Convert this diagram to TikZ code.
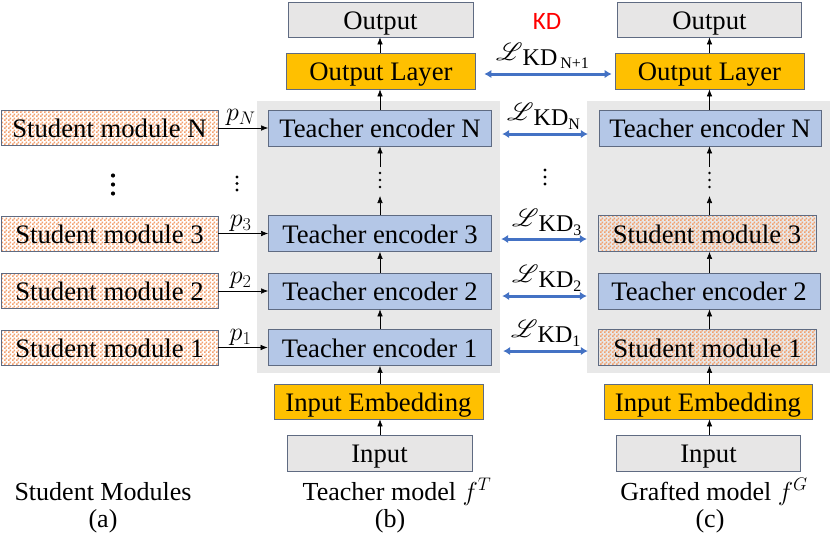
\RequirePackage{fix-cm}
\documentclass[tikz,border=0pt]{standalone}
\usepackage{fontspec}
\setmainfont{Liberation Serif}
\newfontfamily\kdfont{Carlito}
\usepackage{mathrsfs}
\usetikzlibrary{arrows.meta,patterns,calc}
\pgfdeclarepatternformonly{finechecker}{\pgfqpoint{0pt}{0pt}}{\pgfqpoint{4pt}{4pt}}{\pgfqpoint{4pt}{4pt}}{%
  \pgfpathrectangle{\pgfpointorigin}{\pgfqpoint{2pt}{2pt}}%
  \pgfpathrectangle{\pgfqpoint{2pt}{2pt}}{\pgfqpoint{2pt}{2pt}}%
  \pgfusepath{fill}}
\definecolor{bluebox}{HTML}{B4C7E7}
\definecolor{orbox}{HTML}{FFC000}
\definecolor{graybox}{HTML}{E7E6E6}
\definecolor{panel}{RGB}{232,232,232}
\definecolor{edge}{RGB}{95,107,130}
\definecolor{checker}{RGB}{242,160,110}
\definecolor{checkbg}{RGB}{255,242,232}
\definecolor{kdblue}{HTML}{4472C4}
\newcommand\LKD[3]{{\fontsize{30}{30}\selectfont$\mathscr{L}$}\raisebox{-5pt}{\fontsize{24}{24}\selectfont KD}\hspace{#3}\raisebox{#2}{\fontsize{16}{16}\selectfont #1}}
\newcommand\dotsthree[3]{\fill (#1) ++(0,-#2) circle (#3) ++(0,#2) circle (#3) ++(0,#2) circle (#3);}
\begin{document}
\begin{tikzpicture}[x=1pt,y=-1pt,
  box/.style={draw=edge, line width=0.8pt, inner sep=0pt, minimum height=36pt, text height=20pt, text depth=1pt, font=\fontsize{26.7}{30}\selectfont, text=black},
  teach/.style={box, fill=bluebox},
  stud/.style={box, fill=checkbg, pattern=finechecker, pattern color=checker},
  orng/.style={box, fill=orbox},
  gbox/.style={box, fill=graybox},
  panelbox/.style={fill=panel, inner sep=0pt, minimum width=243pt, minimum height=272pt},
  flow/.style={-{Latex[length=7pt,width=5.5pt]}, line width=0.6pt, draw=black},
  kd/.style={{Latex[length=7pt,width=8.5pt]}-{Latex[length=7pt,width=8.5pt]}, line width=3pt, draw=kdblue},
  captext/.style={font=\fontsize{26}{30}\selectfont, inner sep=0pt, anchor=base},
  plabel/.style={font=\fontsize{26}{30}\selectfont, inner sep=0pt, anchor=south},
  lkd/.style={inner sep=0pt, anchor=base west}
]
\useasboundingbox (0,0) rectangle (830,533);

% panels
\node[panelbox] (panB) at (378.5,237) {};
\node[panelbox] (panC) at (708.5,237) {};

% column x references
\coordinate (colB) at (380,0);
\coordinate (colC) at (709.5,0);

% (b) teacher model
\node[gbox, minimum width=185pt, minimum height=35pt] (outB) at (380.5,19.5) {Output};
\node[orng, minimum width=189pt] (olB) at (381,71) {Output Layer};
\node[teach, minimum width=223pt] (teNB) at (380,128) {Teacher encoder N};
\node[teach, minimum width=223pt] (te3B) at (380,233.5) {Teacher encoder 3};
\node[teach, minimum width=223pt] (te2B) at (380,291) {Teacher encoder 2};
\node[teach, minimum width=223pt] (te1B) at (379.5,347.5) {Teacher encoder 1};
\node[orng, minimum width=209pt, minimum height=35pt] (ieB) at (378.5,401.5) {Input Embedding};
\node[gbox, minimum width=185pt] (inB) at (379.5,453) {Input};
\coordinate (dB) at (380,180);

\draw[flow] (colB |- inB.north) -- (colB |- ieB.south);
\draw[flow] (colB |- ieB.north) -- (colB |- te1B.south);
\draw[flow] (colB |- te1B.north) -- (colB |- te2B.south);
\draw[flow] (colB |- te2B.north) -- (colB |- te3B.south);
\draw[flow] (colB |- te3B.north) -- ($(dB)+(0,16)$);
\draw[flow] ($(dB)+(0,-13)$) -- (colB |- teNB.south);
\draw[flow] (colB |- teNB.north) -- (colB |- olB.south);
\draw[flow] (colB |- olB.north) -- (colB |- outB.south);
\dotsthree{dB}{7}{1.4}

% (a) student modules
\node[stud, minimum width=217pt, minimum height=35pt] (sN) at (109.5,128) {Student module N};
\node[stud, minimum width=217pt, minimum height=35pt] (s3) at (109.5,233.5) {Student module 3};
\node[stud, minimum width=217pt, minimum height=35pt] (s2) at (109.5,291) {Student module 2};
\node[stud, minimum width=217pt, minimum height=35pt] (s1) at (109.5,347.5) {Student module 1};
\draw[flow] (sN.east) -- (teNB.west) node[plabel, pos=0.45, yshift=2pt] (pN) {$p_N$};
\draw[flow] (s3.east) -- (te3B.west) node[plabel, pos=0.45, yshift=2pt] (p3) {$p_3$};
\draw[flow] (s2.east) -- (te2B.west) node[plabel, pos=0.45, yshift=2pt] (p2) {$p_2$};
\draw[flow] (s1.east) -- (te1B.west) node[plabel, pos=0.45, yshift=2pt] (p1) {$p_1$};
\coordinate (dA) at (113,184.5);
\coordinate (dP) at (237,183.5);
\dotsthree{dA}{9}{2.1}
\dotsthree{dP}{6.5}{1.7}

% (c) grafted model
\node[gbox, minimum width=184pt, minimum height=35pt] (outC) at (709.5,19.5) {Output};
\node[orng, minimum width=189pt] (olC) at (709.5,71) {Output Layer};
\node[teach, minimum width=222pt] (teNC) at (710,128) {Teacher encoder N};
\node[stud, minimum width=218pt] (s3C) at (707,233.5) {Student module 3};
\node[teach, minimum width=222pt] (te2C) at (709,291) {Teacher encoder 2};
\node[stud, minimum width=218pt] (s1C) at (707.5,347.5) {Student module 1};
\node[orng, minimum width=208pt, minimum height=35pt] (ieC) at (708,401.5) {Input Embedding};
\node[gbox, minimum width=184pt] (inC) at (708.5,453) {Input};
\coordinate (dC) at (709.5,180);

\draw[flow] (colC |- inC.north) -- (colC |- ieC.south);
\draw[flow] (colC |- ieC.north) -- (colC |- s1C.south);
\draw[flow] (colC |- s1C.north) -- (colC |- te2C.south);
\draw[flow] (colC |- te2C.north) -- (colC |- s3C.south);
\draw[flow] (colC |- s3C.north) -- ($(dC)+(0,16)$);
\draw[flow] ($(dC)+(0,-13)$) -- (colC |- teNC.south);
\draw[flow] (colC |- teNC.north) -- (colC |- olC.south);
\draw[flow] (colC |- olC.north) -- (colC |- outC.south);
\dotsthree{dC}{7}{1.4}

% KD arrows
\coordinate (kNa) at ($(olB.east)+(8.5,3)$);
\coordinate (kNb) at ($(olC.west)+(-3,3)$);
\draw[kd] (kNa) -- (kNb);
\coordinate (kna) at ($(panB.east |- teNB.east)+(2,6)$);
\coordinate (knb) at ($(panC.west |- teNB.east)+(1,6)$);
\draw[kd] (kna) -- (knb);
\coordinate (k3a) at ($(panB.east |- s3C.west)+(1,5.5)$);
\coordinate (k3b) at ($(panC.west |- s3C.west)+(0,5.5)$);
\draw[kd] (k3a) -- (k3b);
\coordinate (k2a) at ($(panB.east |- te2C.west)+(2,5)$);
\coordinate (k2b) at ($(panC.west |- te2C.west)+(0,5)$);
\draw[kd] (k2a) -- (k2b);
\coordinate (k1a) at ($(panB.east |- s1C.west)+(3,3.5)$);
\coordinate (k1b) at ($(panC.west |- s1C.west)+(1,3.5)$);
\draw[kd] (k1a) -- (k1b);
\coordinate (dK) at (545,177);
\dotsthree{dK}{7}{1.7}

\node[lkd] (lNp1) at (496,60) {\LKD{N+1}{-8pt}{3pt}};
\node[lkd] (lN) at (507,120) {\LKD{N}{-9pt}{0pt}};
\node[lkd] (l3) at (512,226) {\LKD{3}{-9pt}{0pt}};
\node[lkd] (l2) at (512,282) {\LKD{2}{-9pt}{0pt}};
\node[lkd] (l1) at (511,337) {\LKD{1}{-9pt}{0pt}};

\node[inner sep=0pt, text=red, font=\kdfont\fontsize{25}{30}\selectfont] (kdt) at (547,21) {KD};

% captions
\node[captext] (capA1) at (103,500) {Student Modules};
\node[captext] (capA2) at (103,527.5) {(a)};
\node[captext] (capB1) at (397,500) {Teacher model $f^{T}$};
\node[captext] (capB2) at (390,527.5) {(b)};
\node[captext] (capC1) at (714,500) {Grafted model $f^{G}$};
\node[captext] (capC2) at (710,527.5) {(c)};
\end{tikzpicture}
\end{document}
